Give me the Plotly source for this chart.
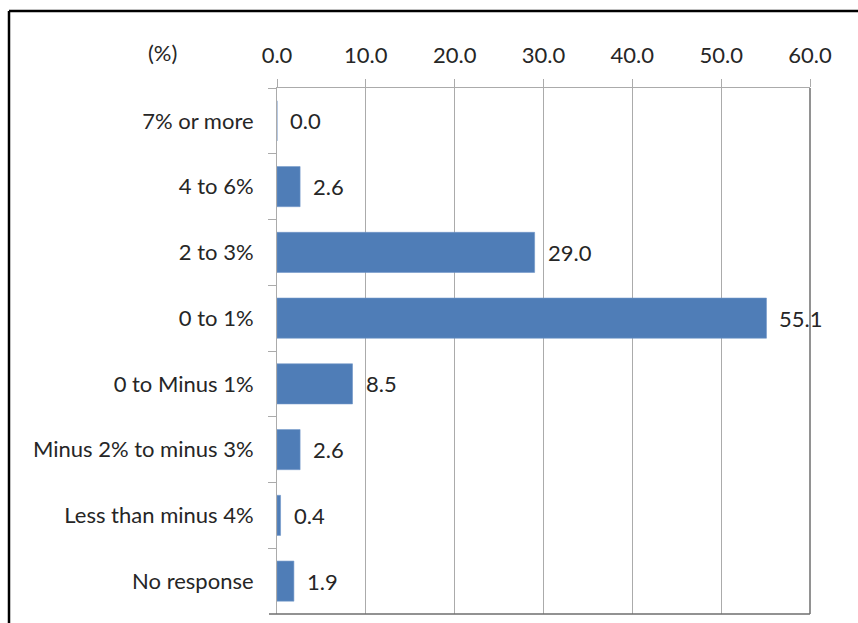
import plotly.graph_objects as go

categories = ["7% or more", "4 to 6%", "2 to 3%", "0 to 1%", "0 to Minus 1%",
              "Minus 2% to minus 3%", "Less than minus 4%", "No response"]
values = [0.0, 2.6, 29.0, 55.1, 8.5, 2.6, 0.4, 1.9]
x_ticks = [0, 10, 20, 30, 40, 50, 60]
unit_label = "(%)"

W, H = 858, 623
L, R, T, B = 277, 48, 88, 9
pw, ph = W - L - R, H - T - B

FONT = "Lato"
FS = 22
TXT = "#262626"
GRID = "#ABABAB"
DARK = "#6E6E6E"

fig = go.Figure()
fig.add_trace(go.Bar(
    y=categories, x=values, orientation="h",
    marker=dict(color="#4F7DB7", line=dict(color="#6F96C8", width=0.6)),
    hoverinfo="skip",
))

for c, v in zip(categories, values):
    fig.add_annotation(x=v, y=c, xref="x", yref="y", text=f"{v:.1f}",
                       showarrow=False, xanchor="left", xshift=11,
                       font=dict(family=FONT, size=FS, color=TXT))

fig.add_annotation(x=(162 - L) / pw, y=(H - 53 - B) / ph, xref="paper", yref="paper",
                   text=unit_label, showarrow=False, xanchor="center", yanchor="middle",
                   font=dict(family=FONT, size=FS, color=TXT))

# outer frame (top and left edges visible)
fig.add_shape(type="line", xref="paper", yref="paper",
              x0=(9 - L) / pw, x1=(W + 5 - L) / pw,
              y0=(H - 11 - B) / ph, y1=(H - 11 - B) / ph,
              line=dict(color="black", width=2.5))
fig.add_shape(type="line", xref="paper", yref="paper",
              x0=(9 - L) / pw, x1=(9 - L) / pw,
              y0=(H - 11 - B) / ph, y1=-0.1,
              line=dict(color="black", width=2.5))
# right and bottom plot-area edges
fig.add_shape(type="line", xref="paper", yref="paper", x0=1, x1=1, y0=0, y1=1,
              line=dict(color=DARK, width=1.5))
fig.add_shape(type="line", xref="paper", yref="paper", x0=-8 / pw, x1=1, y0=0, y1=0,
              line=dict(color=DARK, width=1.5))

fig.update_layout(
    width=W, height=H,
    margin=dict(l=L, r=R, t=T, b=B, pad=0),
    paper_bgcolor="white", plot_bgcolor="white",
    bargap=0.39, showlegend=False,
    font=dict(family=FONT, size=FS, color=TXT),
    xaxis=dict(side="top", range=[0, 60], tickvals=x_ticks, tickformat=".1f",
               showgrid=True, gridcolor=GRID, gridwidth=1,
               showline=True, linecolor=GRID, linewidth=1,
               ticks="outside", ticklen=8, tickcolor=GRID, tickwidth=1,
               ticklabelstandoff=7,
               zeroline=False, tickfont=dict(family=FONT, size=FS, color=TXT)),
    yaxis=dict(categoryorder="array", categoryarray=categories, autorange="reversed",
               showline=True, linecolor=GRID, linewidth=1,
               ticks="outside", ticklen=8, tickcolor=GRID, tickson="boundaries",
               showgrid=False, zeroline=False, ticklabelstandoff=18,
               tickfont=dict(family=FONT, size=FS, color=TXT)),
)

fig.write_html("out.html")
